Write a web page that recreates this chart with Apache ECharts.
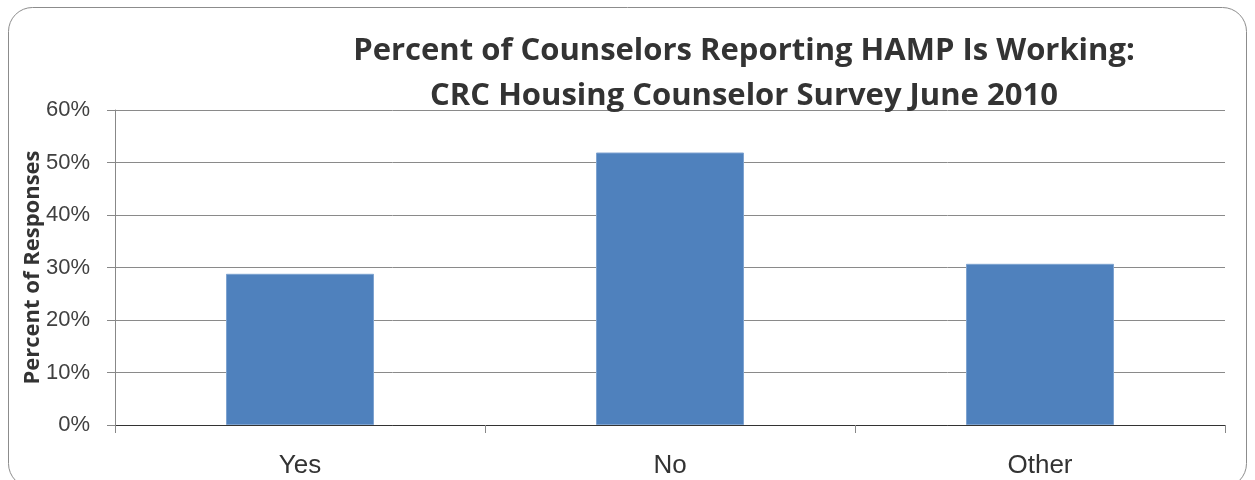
<!DOCTYPE html>
<html><head><meta charset="utf-8">
<script src="https://cdn.jsdelivr.net/npm/echarts@6/dist/echarts.min.js"></script>
<style>html,body{margin:0;padding:0;background:#fff}#c{width:1255px;height:480px}</style>
</head><body><div id="c"></div>
<script>
const categories = ['Yes', 'No', 'Other'];
const percentResponses = [28.8, 51.9, 30.7];
const yTicks = [0, 10, 20, 30, 40, 50, 60];

const chart = echarts.init(document.getElementById('c'));
chart.setOption({
  animation: false,
  graphic: [{
    type: 'rect', silent: true, z: -1,
    shape: { x: 8.5, y: 7.5, width: 1238, height: 480, r: 24 },
    style: { fill: 'none', stroke: '#8c8c8c', lineWidth: 1 }
  }],
  title: {
    text: 'Percent of Counselors Reporting HAMP Is Working:\nCRC Housing Counselor Survey June 2010',
    left: 739, top: 24, textAlign: 'center',
    textStyle: { fontFamily: 'Open Sans', fontWeight: 'bold', fontSize: 31, color: '#333', lineHeight: 45 }
  },
  grid: { left: 115, right: 30, top: 110, bottom: 55 },
  xAxis: {
    type: 'category', data: categories,
    axisLine: { lineStyle: { color: '#333', width: 1 } },
    axisTick: { show: true, length: 8, lineStyle: { color: '#888' } },
    axisLabel: { fontFamily: 'Liberation Sans', fontSize: 26, color: '#333', margin: 28 }
  },
  yAxis: {
    type: 'value', min: 0, max: 60, interval: 10,
    name: 'Percent of Responses', nameLocation: 'middle', nameGap: 71, nameRotate: 90,
    nameMoveOverlap: false,
    nameTextStyle: { fontFamily: 'Open Sans', fontWeight: 'bold', fontSize: 22, color: '#333' },
    axisLine: { show: true, lineStyle: { color: '#888' } },
    axisTick: { show: true, length: 8, lineStyle: { color: '#888' } },
    axisLabel: { fontFamily: 'Liberation Sans', fontSize: 22, color: '#404040', margin: 25,
      formatter: v => yTicks.includes(v) ? v + '%' : '' },
    splitLine: { lineStyle: { color: '#8a8a8a', width: 1 } }
  },
  series: [{
    type: 'bar', data: percentResponses, barWidth: '40%',
    itemStyle: { color: '#4f81bd', borderColor: '#7ea3d0', borderWidth: 1 }
  }]
});
</script></body></html>
